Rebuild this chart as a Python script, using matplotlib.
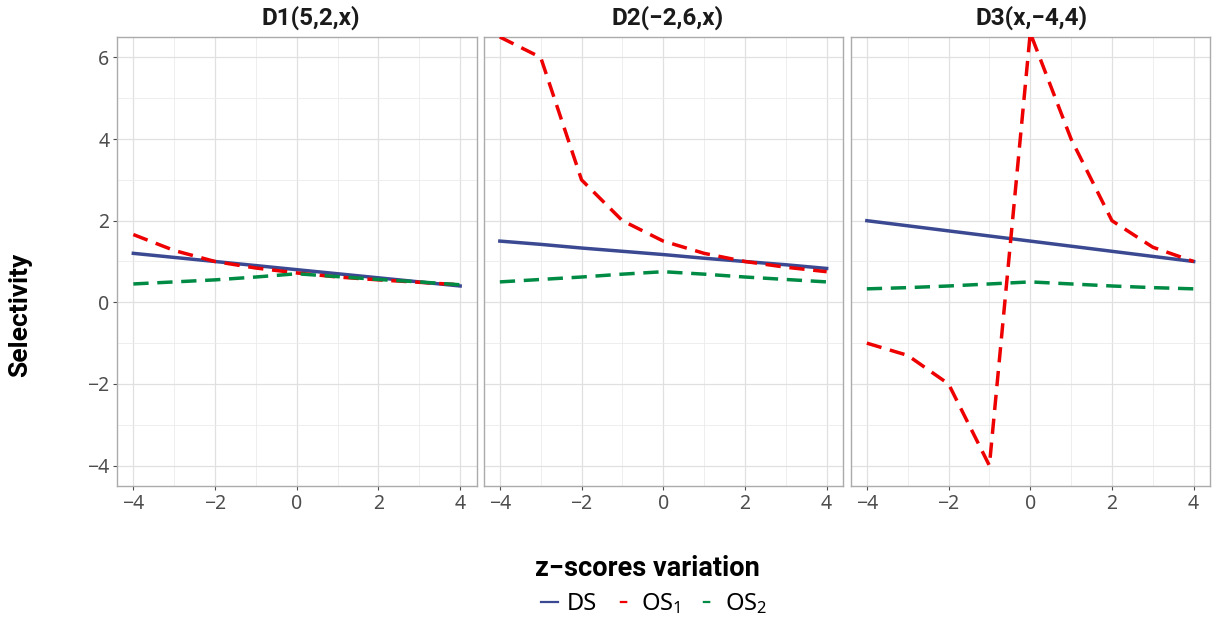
import numpy as np
import matplotlib
matplotlib.use("Agg")
import matplotlib.pyplot as plt
from matplotlib.lines import Line2D
from matplotlib.ticker import MultipleLocator

plt.rcParams['font.family'] = ['Noto Sans', 'DejaVu Sans']
plt.rcParams['mathtext.fontset'] = 'custom'
plt.rcParams['mathtext.rm'] = 'Noto Sans'
plt.rcParams['mathtext.it'] = 'Noto Sans:italic'
plt.rcParams['mathtext.bf'] = 'Noto Sans:bold'
BOLD = ['Roboto', 'DejaVu Sans']

# data
z = [-4, -3, -2, -1, 0, 1, 2, 3, 4]
panel_titles = ['D1(5,2,x)', 'D2(\u22122,6,x)', 'D3(x,\u22124,4)']

ds_d1 = [1.2, 1.1, 1.0, 0.9, 0.8, 0.7, 0.6, 0.5, 0.4]
os1_d1 = [1.66, 1.27, 1.0, 0.84, 0.72, 0.62, 0.55, 0.49, 0.43]
os2_d1 = [0.45, 0.5, 0.55, 0.62, 0.7, 0.63, 0.56, 0.5, 0.43]

ds_d2 = [1.5, 1.42, 1.33, 1.25, 1.17, 1.08, 1.0, 0.92, 0.83]
os1_d2 = [6.5, 6.0, 3.0, 2.0, 1.5, 1.2, 1.0, 0.86, 0.75]
os2_d2 = [0.5, 0.56, 0.62, 0.69, 0.75, 0.69, 0.62, 0.56, 0.5]

ds_d3 = [2.0, 1.875, 1.75, 1.625, 1.5, 1.375, 1.25, 1.125, 1.0]
os1_d3 = [-1.0, -1.3, -2.0, -4.0, 6.6, 4.0, 2.0, 1.35, 1.0]
os2_d3 = [0.33, 0.36, 0.4, 0.45, 0.5, 0.45, 0.4, 0.36, 0.33]

series_names = ['DS', 'OS$_1$', 'OS$_2$']
colors = ['#3B4992', '#EE0000', '#008B45']
styles = ['-', (0, (4.4, 2.5)), (0, (4.4, 2.5))]

panels = [(ds_d1, os1_d1, os2_d1), (ds_d2, os1_d2, os2_d2), (ds_d3, os1_d3, os2_d3)]

W, H = 1212, 619
fig = plt.figure(figsize=(W / 100, H / 100), dpi=100)

lefts = [117, 483.5, 850.5]
title_x = [311, 668, 1032]
pw = 359.5
top, bottom = 37, 486

for i, (left, data) in enumerate(zip(lefts, panels)):
    ax = fig.add_axes([left / W, 1 - bottom / H, pw / W, (bottom - top) / H])
    for vals, c, ls in zip(data, colors, styles):
        ax.plot(z, vals, color=c, linestyle=ls, linewidth=2.5, zorder=3)
    ax.set_xlim(-4.4, 4.4)
    ax.set_ylim(-4.5, 6.5)
    ax.xaxis.set_major_locator(MultipleLocator(2))
    ax.xaxis.set_minor_locator(MultipleLocator(1))
    ax.yaxis.set_major_locator(MultipleLocator(2))
    ax.yaxis.set_minor_locator(MultipleLocator(1))
    ax.grid(True, which='major', color='#E0E0E0', linewidth=0.9, zorder=0)
    ax.grid(True, which='minor', color='#EBEBEB', linewidth=0.6, zorder=0)
    ax.set_axisbelow(True)
    for sp in ax.spines.values():
        sp.set_color('#ABABAB')
        sp.set_linewidth(1.0)
    ax.tick_params(which='minor', length=0)
    ax.tick_params(which='major', length=3, width=0.8, color='#4D4D4D',
                   labelcolor='#4D4D4D', labelsize=14, pad=2.5)
    if i > 0:
        ax.tick_params(axis='y', left=False, labelleft=False)
    fig.text(title_x[i] / W, 1 - 18 / H, panel_titles[i], ha='center', va='center',
             fontsize=17.5, fontweight='bold', color='#1A1A1A', family=BOLD)

fig.text(20 / W, 1 - 315 / H, 'Selectivity', rotation=90, ha='center', va='center',
         fontsize=19, fontweight='bold', family=BOLD)
fig.text(647 / W, 1 - 568 / H, 'z\u2212scores variation', ha='center', va='center',
         fontsize=19.5, fontweight='bold', family=BOLD)

# legend keys: short solid line, single centred dash for the dashed series
key_dash = (6.7, (3.4, 5.0))
handles = [Line2D([], [], color=colors[0], linewidth=1.6),
           Line2D([], [], color=colors[1], linewidth=1.6, linestyle=key_dash),
           Line2D([], [], color=colors[2], linewidth=1.6, linestyle=key_dash)]
fig.legend(handles, series_names, loc='center', bbox_to_anchor=(654 / W, 1 - 604 / H),
           ncol=3, frameon=False, fontsize=17, handlelength=0.72, handletextpad=0.35,
           columnspacing=0.8, borderpad=0, borderaxespad=0)

fig.savefig('out.png', dpi=100)
